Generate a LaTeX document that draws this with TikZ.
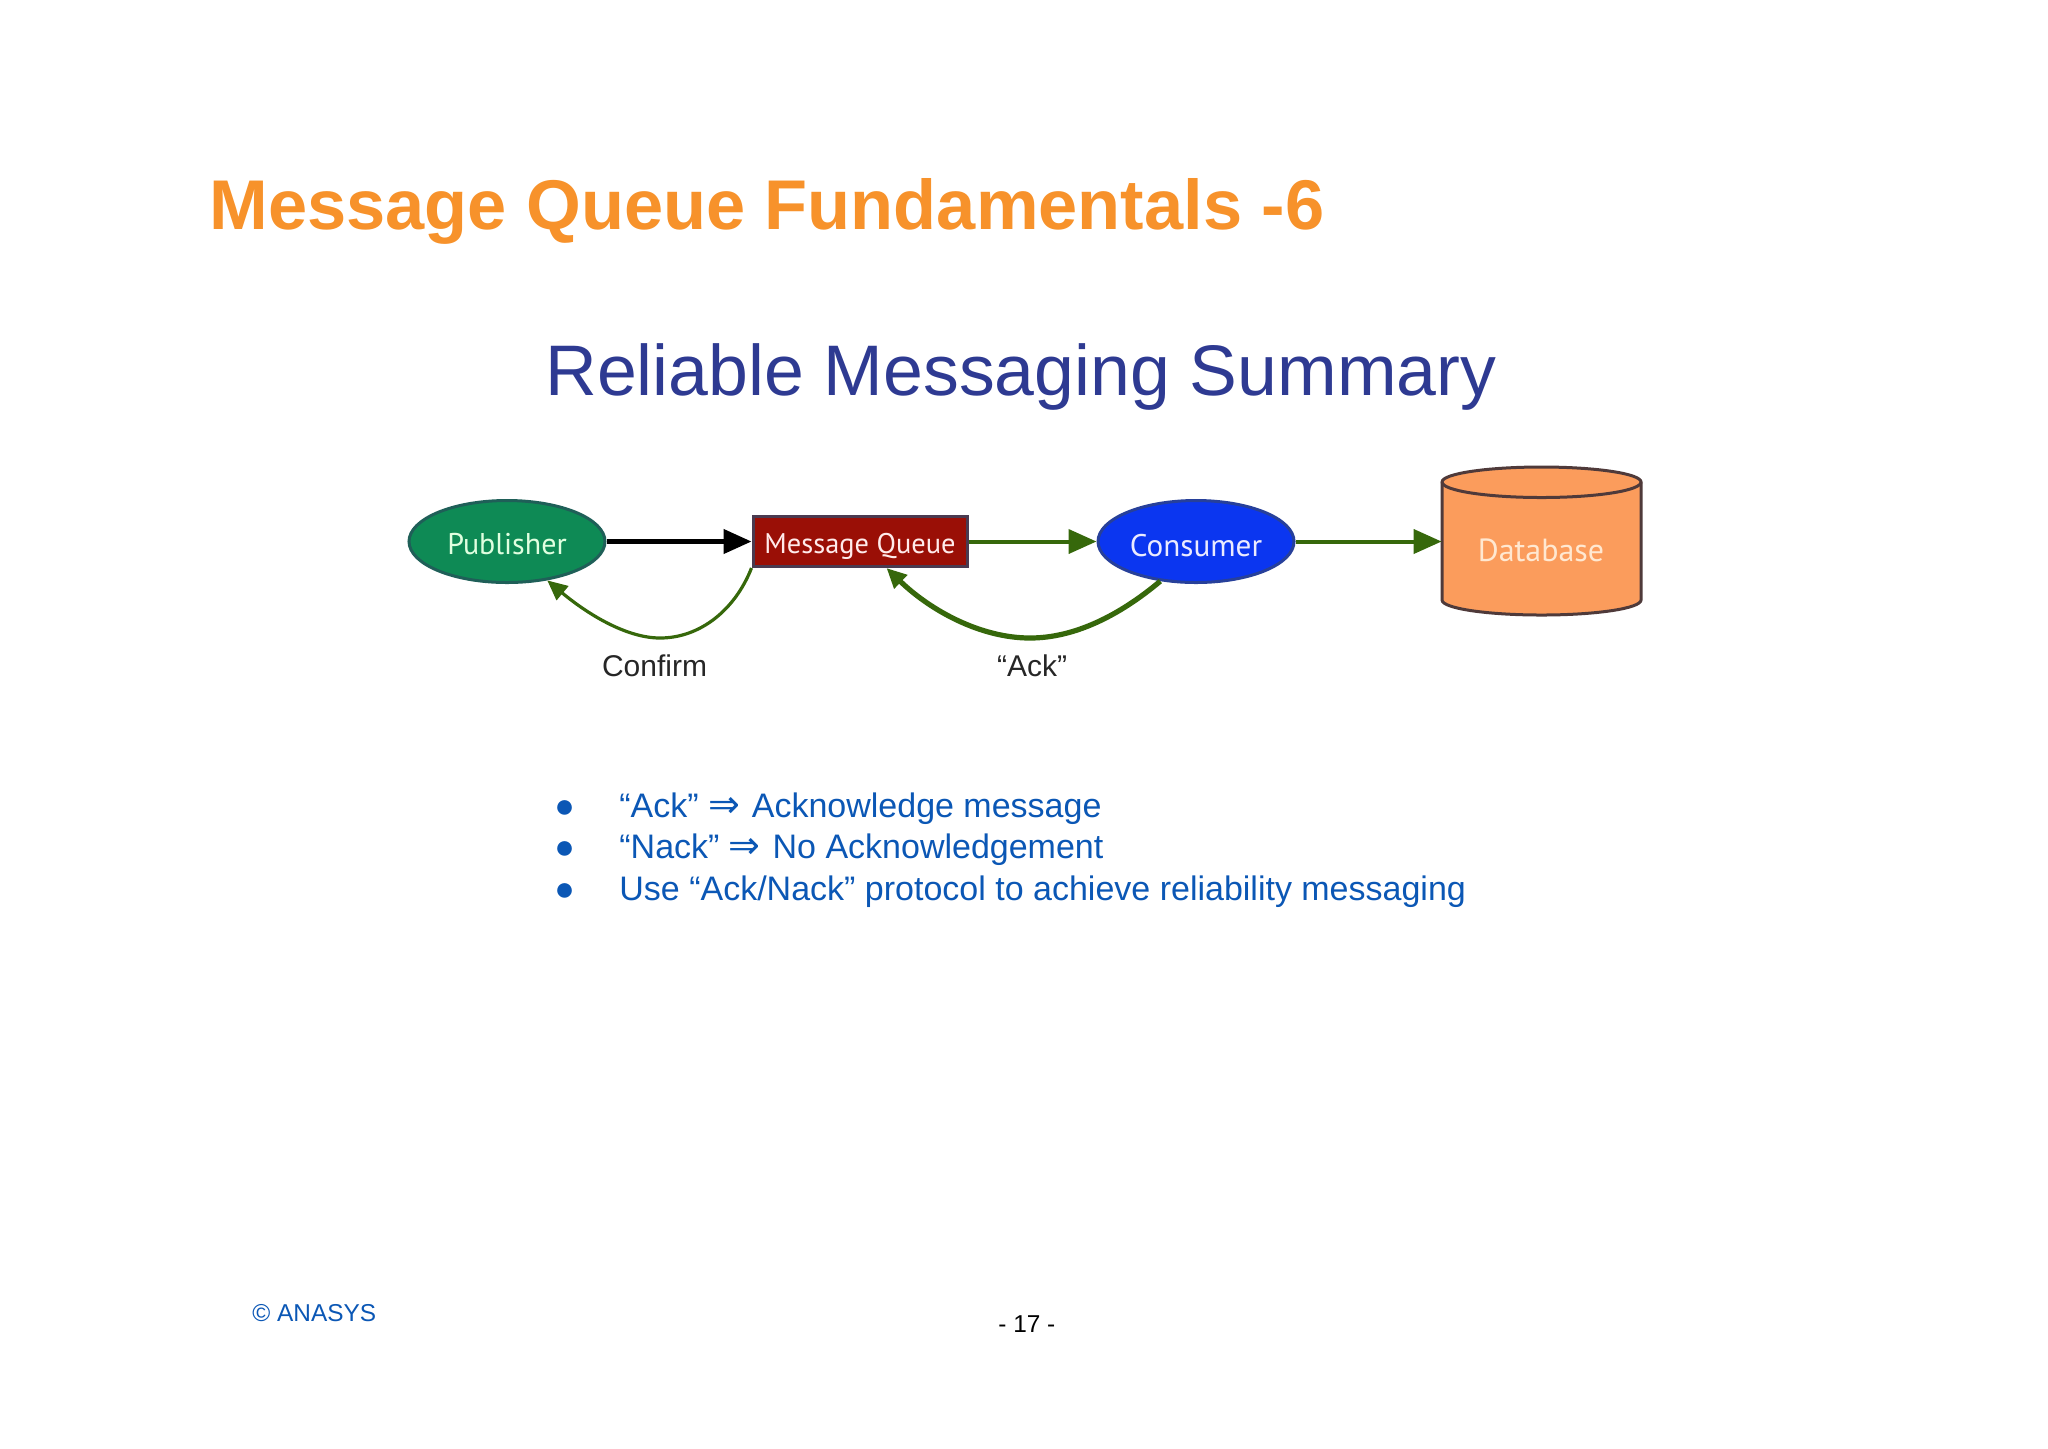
\documentclass[tikz,border=0pt]{standalone}
\usepackage{fontspec}
\setmainfont{Liberation Sans}
\newfontfamily\diag{PT Sans}
\newfontfamily\symb{DejaVu Sans}
\usetikzlibrary{arrows.meta,shapes.geometric,calc}
\definecolor{orangeT}{HTML}{F7922B}
\definecolor{navyT}{HTML}{2E3A92}
\definecolor{blueT}{HTML}{0B57B5}
\definecolor{arrowG}{HTML}{36680B}
\definecolor{pubG}{HTML}{0E8A55}
\definecolor{pubE}{HTML}{1F5F58}
\definecolor{mqR}{HTML}{9A0F06}
\definecolor{mqE}{HTML}{4A3A50}
\definecolor{consB}{HTML}{0B36F0}
\definecolor{consE}{HTML}{27409A}
\definecolor{dbO}{HTML}{FB9C5C}
\definecolor{dbE}{HTML}{4F3A3A}
\newcommand{\impl}{{\symb\fontsize{19}{19}\selectfont ⇒}\kern1.2pt}
\tikzset{
  x=0.5pt,y=-0.5pt,
  title/.style={anchor=base west,inner sep=0,text=orangeT,font=\fontsize{35.2}{35.2}\selectfont\bfseries},
  sub/.style={anchor=base west,inner sep=0,text=navyT,font=\fontsize{35.8}{35.8}\selectfont},
  item/.style={anchor=base west,inner sep=0,text=blueT,font=\fontsize{17}{17}\selectfont},
  foot/.style={anchor=base west,inner sep=0,font=\fontsize{12.2}{12.2}\selectfont},
  blob/.style={ellipse,inner sep=0,line width=1.5pt,minimum width=98pt,minimum height=41pt},
  dtext/.style n args={2}{text=#1,font=\diag\fontsize{#2}{#2}\selectfont},
  capt/.style={inner sep=0,text=black!85,font=\fontsize{15}{15}\selectfont},
  flow/.style={draw=arrowG,line width=2pt,-{Triangle[length=14pt,width=12pt]}},
  blackflow/.style={draw=black,line width=2.2pt,-{Triangle[length=14pt,width=12pt]}},
  back/.style={draw=arrowG,line width=#1,-{Triangle[length=10pt,width=9pt]}},
}
\begin{document}
\begin{tikzpicture}
\useasboundingbox (0,0) rectangle (2048,1448);
\node[title] (ttl) at (209,229) {Message Queue Fundamentals -6};
\node[sub] (stt) at (545,395) {Reliable Messaging Summary};

\node[blob,draw=pubE,fill=pubG,dtext={green!12!white}{15}] (pub) at (507,541.5) {\raisebox{-1.3pt}[\height][0pt]{Publisher}};
\node[rectangle,inner sep=0,draw=mqE,fill=mqR,line width=1.5pt,minimum width=107pt,minimum height=25pt,dtext={red!8!white}{14.2}] (mq) at (860,541.5) {\raisebox{-1.1pt}[\height][0pt]{Message Queue}};
\node[blob,draw=consE,fill=consB,dtext={blue!8!white}{15.6}] (cons) at (1196,541.5) {\raisebox{-2pt}[\height][0pt]{Consumer}};

% database
\draw[draw=dbE,fill=dbO,line width=1.5pt] (1442,482) -- (1442,600) arc[start angle=180,end angle=360,x radius=99.5,y radius=-15] -- (1641,482) arc[start angle=0,end angle=180,x radius=99.5,y radius=-15] -- cycle;
\draw[draw=dbE,line width=1.5pt] (1442,482) arc[start angle=180,end angle=360,x radius=99.5,y radius=-15.5];
\node[inner sep=0,minimum width=99.5pt,minimum height=59pt] (db) at (1541.5,541.5) {};
\node[dtext={orange!18!white}{16}] (dbl) at (1541,550) {Database};

\draw[blackflow] (pub.east) -- (mq.west);
\draw[flow] (mq.east) -- (cons.west);
\draw[flow] (cons.east) -- (db.west);

\draw[back=1.6pt] (mq.south west) .. controls (735,610) and (700,638) .. (660,638) .. controls (625,638) and (585,612) .. (pub.-44);
\draw[back=2.6pt] (cons.-132) .. controls (1120,615) and (1075,638) .. (1030,638) .. controls (980,638) and (930,610) .. (mq.-45);

\node[capt] (cf) at (654.5,666) {Confirm};
\node[capt] (ak) at (1032,666) {“Ack”};

\node[item] (b1) at (554,817) {●};
\node[item] (t1) at (619,817) {“Ack” \impl{} Acknowledge message};
\node[item] (b2) at (554,858) {●};
\node[item] (t2) at (619,858) {“Nack” \impl{} No Acknowledgement};
\node[item] (b3) at (554,900) {●};
\node[item] (t3) at (619,900) {Use “Ack/Nack” protocol to achieve reliability messaging};

\node[foot,text=blueT] (cp) at (252,1321) {© ANASYS};
\node[foot,text=black] (pg) at (998,1332) {- 17 -};
\end{tikzpicture}
\end{document}
